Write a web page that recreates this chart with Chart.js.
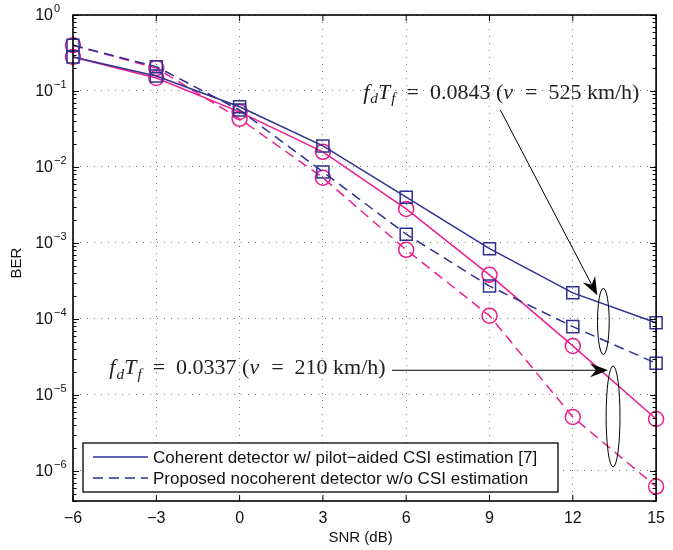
<!DOCTYPE html>
<html>
<head>
<meta charset="utf-8">
<script src="https://cdn.jsdelivr.net/npm/chart.js@4.4.1/dist/chart.umd.min.js"></script>
<style>
  html, body { margin: 0; padding: 0; background: #fff; }
  canvas { display: block; }
</style>
</head>
<body>
<canvas id="berChart" width="673" height="550"></canvas>
<script>
// SNR (dB) on the x axis
const snr = [-6, -3, 0, 3, 6, 9, 12, 15];
const xTicks = [-6, -3, 0, 3, 6, 9, 12, 15];
const yDecades = [-6, -5, -4, -3, -2, -1, 0];

// fdTf = 0.0843 (blue)
const coherentFast = [0.28, 0.157, 0.062, 0.0189, 4.0e-3, 8.4e-4, 2.2e-4, 8.9e-5];
const noncoherentFast = [0.40, 0.209, 0.056, 8.6e-3, 1.3e-3, 2.7e-4, 7.9e-5, 2.6e-5];
// fdTf = 0.0337 (pink)
const coherentSlow = [0.28, 0.148, 0.053, 0.0158, 2.8e-3, 3.8e-4, 4.4e-5, 4.8e-6];
const noncoherentSlow = [0.40, 0.20, 0.043, 7.2e-3, 8.1e-4, 1.1e-4, 5.1e-6, 6.2e-7];

const legendLabels = [
  "Coherent detector w/ pilot\u2212aided CSI estimation [7]",
  "Proposed nocoherent detector w/o CSI estimation",
];

const BLUE = "#2e3192";
const PINK = "#ec1e8e";
const DASH = [10, 6];
const SANS = '"Liberation Sans", Arial, sans-serif';
const SERIF = '"Liberation Serif", "DejaVu Serif", serif';

function series(values, color, dashed, marker) {
  return {
    data: snr.map((x, i) => ({ x, y: values[i] })),
    borderColor: color,
    borderWidth: 1.5,
    borderDash: dashed ? DASH : [],
    pointStyle: marker,
    pointRadius: marker === "rect" ? 8.5 : 7.5,
    pointBorderColor: color,
    pointBackgroundColor: "transparent",
    pointBorderWidth: 1.5,
    fill: false,
    tension: 0,
    clip: false,
  };
}

// annotation text pieces (italic variables, subscripts)
function mathParts(val, speed) {
  return [
    { t: "f", it: true }, { t: "d", it: true, sub: true },
    { t: "T", it: true }, { t: "f", it: true, sub: true },
    { t: "\u2002=\u2002" + val + " (" }, { t: "v", it: true },
    { t: "\u2002=\u2002" + speed + " km/h)" },
  ];
}

function drawMath(ctx, parts, x, y, size) {
  ctx.textAlign = "left";
  ctx.textBaseline = "alphabetic";
  for (const p of parts) {
    const s = p.sub ? size * 0.7 : size;
    ctx.font = (p.it ? "italic " : "") + s + "px " + SERIF;
    ctx.fillText(p.t, x, y + (p.sub ? size * 0.22 : 0));
    x += ctx.measureText(p.t).width + (p.it && !p.sub ? 1 : 0);
  }
}

function drawArrow(ctx, x1, y1, x2, y2) {
  const a = Math.atan2(y2 - y1, x2 - x1);
  const L = 18, W = 7, N = 12;
  ctx.beginPath();
  ctx.moveTo(x1, y1);
  ctx.lineTo(x2 - Math.cos(a) * N, y2 - Math.sin(a) * N);
  ctx.stroke();
  const bx = x2 - Math.cos(a) * L, by = y2 - Math.sin(a) * L;
  const nx = -Math.sin(a), ny = Math.cos(a);
  ctx.beginPath();
  ctx.moveTo(x2, y2);
  ctx.lineTo(bx + nx * W, by + ny * W);
  ctx.lineTo(x2 - Math.cos(a) * N, y2 - Math.sin(a) * N);
  ctx.lineTo(bx - nx * W, by - ny * W);
  ctx.closePath();
  ctx.fill();
}

const decor = {
  id: "decor",
  afterDraw(chart) {
    const { ctx, chartArea: ca, scales: { x, y } } = chart;
    ctx.save();
    ctx.strokeStyle = "#000";
    ctx.fillStyle = "#000";

    // ticks pointing inward
    ctx.lineWidth = 1;
    ctx.beginPath();
    for (const v of xTicks) {
      const px = x.getPixelForValue(v);
      ctx.moveTo(px, ca.bottom); ctx.lineTo(px, ca.bottom - 6);
      ctx.moveTo(px, ca.top); ctx.lineTo(px, ca.top + 6);
    }
    for (let d = -7; d <= 0; d++) {
      for (let m = 1; m <= 9; m++) {
        const v = m * Math.pow(10, d);
        if (v < 4e-7 || v > 1) continue;
        const py = Math.round(y.getPixelForValue(v)) + 0.5;
        const len = m === 1 ? 6 : 3.5;
        ctx.moveTo(ca.left, py); ctx.lineTo(ca.left + len, py);
        ctx.moveTo(ca.right, py); ctx.lineTo(ca.right - len, py);
      }
    }
    ctx.stroke();

    // plot box
    ctx.lineWidth = 1.6;
    ctx.strokeRect(ca.left, ca.top, ca.right - ca.left, ca.bottom - ca.top);

    // y tick labels 10^n
    ctx.fillStyle = "#111";
    for (const d of yDecades) {
      const py = y.getPixelForValue(Math.pow(10, d));
      ctx.font = "16px " + SANS;
      ctx.textAlign = "right";
      ctx.textBaseline = "middle";
      ctx.fillText("10", ca.left - 20, py + 1);
      ctx.font = "11px " + SANS;
      ctx.textAlign = "left";
      ctx.fillText(d === 0 ? "0" : "\u2212" + Math.abs(d), ca.left - 19, py - 6);
    }

    // axis titles
    ctx.font = "15px " + SANS;
    ctx.textAlign = "center";
    ctx.textBaseline = "middle";
    ctx.fillText("SNR (dB)", (ca.left + ca.right) / 2 - 4, ca.bottom + 37);
    ctx.save();
    ctx.translate(17, 263);
    ctx.rotate(-Math.PI / 2);
    ctx.fillText("BER", 0, 0);
    ctx.restore();

    // annotations, placed in data coordinates
    ctx.fillStyle = "#222";
    drawMath(ctx, mathParts("0.0843", "525"), x.getPixelForValue(4.45), y.getPixelForValue(Math.pow(10, -1.1)), 22);
    drawMath(ctx, mathParts("0.0337", "210"), x.getPixelForValue(-4.69), y.getPixelForValue(Math.pow(10, -4.73)), 22);

    ctx.strokeStyle = "#000";
    ctx.fillStyle = "#000";
    ctx.lineWidth = 1;
    drawArrow(ctx,
      x.getPixelForValue(9.39), y.getPixelForValue(Math.pow(10, -1.25)),
      x.getPixelForValue(12.88), y.getPixelForValue(Math.pow(10, -3.69)));
    drawArrow(ctx,
      x.getPixelForValue(5.49), y.getPixelForValue(Math.pow(10, -4.677)),
      x.getPixelForValue(13.27), y.getPixelForValue(Math.pow(10, -4.677)));

    const ellipses = [
      { cx: 13.1, hw: 0.21, top: -3.6, bot: -4.47 },
      { cx: 13.45, hw: 0.25, top: -4.62, bot: -5.95 },
    ];
    for (const e of ellipses) {
      const cx = x.getPixelForValue(e.cx);
      const rx = x.getPixelForValue(e.cx + e.hw) - cx;
      const yt = y.getPixelForValue(Math.pow(10, e.top));
      const yb = y.getPixelForValue(Math.pow(10, e.bot));
      ctx.beginPath();
      ctx.ellipse(cx, (yt + yb) / 2, rx, (yb - yt) / 2, 0, 0, Math.PI * 2);
      ctx.stroke();
    }

    // legend box
    const lx = ca.left + 10, ly = ca.bottom - 58, lw = 475, lh = 49;
    ctx.fillStyle = "#fff";
    ctx.fillRect(lx, ly, lw, lh);
    ctx.lineWidth = 1.3;
    ctx.strokeRect(lx, ly, lw, lh);
    const rows = [chart.data.datasets[0], chart.data.datasets[1]];
    rows.forEach((ds, i) => {
      const ry = ly + 14 + i * 21;
      ctx.strokeStyle = ds.borderColor;
      ctx.lineWidth = 1.5;
      ctx.setLineDash(ds.borderDash);
      ctx.beginPath();
      ctx.moveTo(lx + 10, ry); ctx.lineTo(lx + 65, ry);
      ctx.stroke();
      ctx.setLineDash([]);
      ctx.fillStyle = "#111";
      ctx.font = "17px " + SANS;
      ctx.textAlign = "left";
      ctx.textBaseline = "middle";
      ctx.fillText(legendLabels[i], lx + 70, ry + 1);
    });
    ctx.restore();
  },
};

new Chart(document.getElementById("berChart"), {
  type: "line",
  data: {
    datasets: [
      series(coherentFast, BLUE, false, "rect"),
      series(noncoherentFast, BLUE, true, "rect"),
      series(coherentSlow, PINK, false, "circle"),
      series(noncoherentSlow, PINK, true, "circle"),
    ],
  },
  options: {
    responsive: false,
    animation: false,
    layout: { padding: { top: 15, right: 6, left: 0, bottom: 0 } },
    plugins: { legend: { display: false }, tooltip: { enabled: false } },
    scales: {
      x: {
        type: "linear",
        min: -6,
        max: 15,
        afterBuildTicks: (s) => { s.ticks = xTicks.map((v) => ({ value: v })); },
        afterFit: (s) => { s.height = 49; },
        ticks: {
          color: "#111",
          font: { family: SANS, size: 16 },
          padding: 8,
          callback: (v) => (v < 0 ? "\u2212" + Math.abs(v) : String(v)),
        },
        grid: { color: "#777", lineWidth: 1, drawTicks: false },
        border: { display: false, dash: [1, 6] },
      },
      y: {
        type: "logarithmic",
        min: 4e-7,
        max: 1,
        afterBuildTicks: (s) => { s.ticks = yDecades.map((d) => ({ value: Math.pow(10, d) })); },
        afterFit: (s) => { s.width = 73; },
        ticks: { display: false },
        grid: { color: "#777", lineWidth: 1, drawTicks: false },
        border: { display: false, dash: [1, 6] },
      },
    },
  },
  plugins: [decor],
});
</script>
</body>
</html>
